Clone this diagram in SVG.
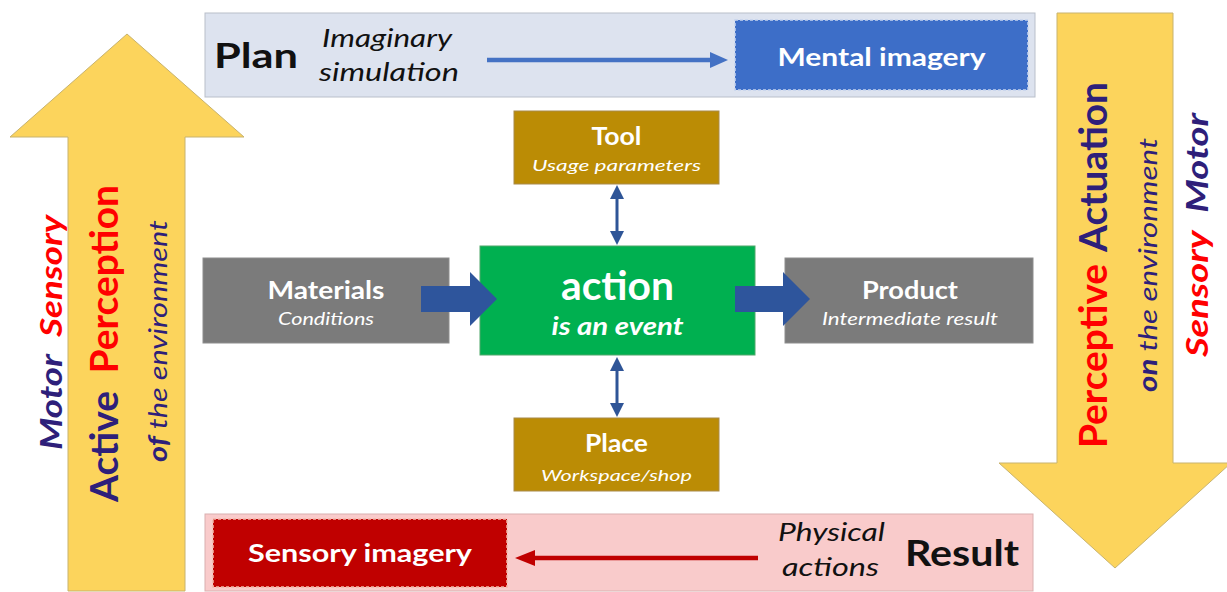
<svg xmlns="http://www.w3.org/2000/svg" width="1227" height="592" viewBox="0 0 1227 592">
<defs>
<style>
.t{font-family:Lato,"Open Sans","Liberation Sans",sans-serif}
.b{font-weight:bold}
.i{font-style:italic}
.w{fill:#ffffff}
.k{fill:#111111}
.nv{fill:#2e1f7a}
.rd{fill:#ff0000}
.yel{fill:#fcd45c;stroke:#c8b36e;stroke-width:1}
.blk{fill:#2e559c}
.dbl{stroke:#2f5597;stroke-width:3;fill:none}
.gray{fill:#7b7b7b;stroke:#8e8e8e;stroke-width:1}
.gold{fill:#bb8c05;stroke:#a88a4a;stroke-width:1}
</style>
<marker id="mb" viewBox="0 0 14 14" refX="2" refY="7" markerWidth="14" markerHeight="14" markerUnits="userSpaceOnUse" orient="auto-start-reverse"><path d="M0,0 L14,7 L0,14 z" fill="#2f5597"/></marker>
<marker id="mblue" viewBox="0 0 18 16" refX="4" refY="8" markerWidth="18" markerHeight="16" markerUnits="userSpaceOnUse" orient="auto"><path d="M0,0 L18,8 L0,16 z" fill="#4472c4"/></marker>
<marker id="mred" viewBox="0 0 20 16" refX="4" refY="8" markerWidth="20" markerHeight="16" markerUnits="userSpaceOnUse" orient="auto"><path d="M0,0 L20,8 L0,16 z" fill="#c00000"/></marker>
</defs>
<rect width="1227" height="592" fill="#ffffff"/>

<g id="left-arrow">
<polygon class="yel" points="127,34 244,137 185,137 185,591 68,591 68,137 10,137"/>
<text class="t b i" font-size="30" transform="translate(62,450) rotate(-90)" textLength="235" lengthAdjust="spacingAndGlyphs"><tspan class="nv">Motor</tspan> <tspan class="rd" dx="8">Sensory</tspan></text>
<text class="t b" font-size="39" transform="translate(118,502) rotate(-90)" textLength="317" lengthAdjust="spacingAndGlyphs"><tspan class="nv">Active</tspan> <tspan class="rd" dx="8">Perception</tspan></text>
<text class="t i nv" font-size="26" transform="translate(167,462) rotate(-90)" textLength="242" lengthAdjust="spacingAndGlyphs"><tspan class="b">of</tspan> the environment</text>
</g>

<g id="right-arrow">
<polygon class="yel" points="1057,13 1173,13 1173,463 1231,463 1115,568 999,463 1057,463"/>
<text class="t b" font-size="39" transform="translate(1107,448) rotate(-90)" textLength="366" lengthAdjust="spacingAndGlyphs"><tspan class="rd">Perceptive</tspan> <tspan class="nv" dx="4">Actuation</tspan></text>
<text class="t i nv" font-size="26" transform="translate(1157,392) rotate(-90)" textLength="254" lengthAdjust="spacingAndGlyphs"><tspan class="b">on</tspan> the environment</text>
<text class="t b i" font-size="30" transform="translate(1208,357) rotate(-90)" textLength="244" lengthAdjust="spacingAndGlyphs"><tspan class="rd">Sensory</tspan> <tspan class="nv" dx="8">Motor</tspan></text>
</g>

<g id="plan">
<rect x="205" y="13" width="830" height="84" fill="#dde3ef" stroke="#b9bfca" stroke-width="1"/>
<text class="t b k" font-size="34" x="214" y="68" textLength="84" lengthAdjust="spacingAndGlyphs">Plan</text>
<text class="t i k" font-size="25" x="322" y="47" textLength="130" lengthAdjust="spacingAndGlyphs">Imaginary</text>
<text class="t i k" font-size="25" x="319" y="81" textLength="140" lengthAdjust="spacingAndGlyphs">simulation</text>
</g>

<g id="mental-imagery">
<rect x="735" y="20" width="293" height="70" fill="#3d6ec8" stroke="#c5d3ee" stroke-width="1.5" stroke-dasharray="3,2"/>
<text class="t b w" font-size="25" x="881.5" y="66" text-anchor="middle" textLength="208" lengthAdjust="spacingAndGlyphs">Mental imagery</text>
</g>

<g id="result">
<rect x="205" y="514" width="828" height="77" fill="#f9cbcb" stroke="#d9b0b0" stroke-width="1"/>
<text class="t i k" font-size="25" x="778" y="541" textLength="107" lengthAdjust="spacingAndGlyphs">Physical</text>
<text class="t i k" font-size="25" x="782" y="576" textLength="97" lengthAdjust="spacingAndGlyphs">actions</text>
<text class="t b k" font-size="36" x="905" y="566" textLength="114" lengthAdjust="spacingAndGlyphs">Result</text>
</g>

<g id="sensory-imagery">
<rect x="213" y="519" width="294" height="68" fill="#c00000" stroke="#f1b7a8" stroke-width="1.5" stroke-dasharray="3,2"/>
<text class="t b w" font-size="25" x="360" y="562" text-anchor="middle" textLength="224" lengthAdjust="spacingAndGlyphs">Sensory imagery</text>
</g>

<g id="tool">
<rect class="gold" x="514" y="111" width="205" height="73"/>
<text class="t b w" font-size="25" x="616.5" y="145" text-anchor="middle" textLength="50" lengthAdjust="spacingAndGlyphs">Tool</text>
<text class="t i w" font-size="16" x="616.5" y="171" text-anchor="middle" textLength="169" lengthAdjust="spacingAndGlyphs">Usage parameters</text>
</g>

<g id="place">
<rect class="gold" x="514" y="418" width="205" height="73"/>
<text class="t b w" font-size="25" x="616.5" y="452" text-anchor="middle" textLength="63" lengthAdjust="spacingAndGlyphs">Place</text>
<text class="t i w" font-size="16" x="616.5" y="481" text-anchor="middle" textLength="151" lengthAdjust="spacingAndGlyphs">Workspace/shop</text>
</g>

<g id="materials">
<rect class="gray" x="203" y="258" width="246" height="85"/>
<text class="t b w" font-size="25" x="326" y="299" text-anchor="middle" textLength="117" lengthAdjust="spacingAndGlyphs">Materials</text>
<text class="t i w" font-size="17" x="326" y="325" text-anchor="middle" textLength="96" lengthAdjust="spacingAndGlyphs">Conditions</text>
</g>

<g id="product">
<rect class="gray" x="785" y="258" width="248" height="85"/>
<text class="t b w" font-size="25" x="910" y="299" text-anchor="middle" textLength="96" lengthAdjust="spacingAndGlyphs">Product</text>
<text class="t i w" font-size="17" x="910" y="325" text-anchor="middle" textLength="176" lengthAdjust="spacingAndGlyphs">Intermediate result</text>
</g>

<g id="action">
<rect x="480" y="246" width="275" height="109" fill="#00b050" stroke="#4fa86a" stroke-width="1"/>
<text class="t b w" font-size="40" x="617.5" y="300" text-anchor="middle" textLength="113" lengthAdjust="spacingAndGlyphs">action</text>
<text class="t b i w" font-size="25" x="617.5" y="335" text-anchor="middle" textLength="132" lengthAdjust="spacingAndGlyphs">is an event</text>
</g>

<g id="connectors">
<line x1="487" y1="60" x2="714" y2="60" stroke="#4472c4" stroke-width="4.5" marker-end="url(#mblue)"/>
<line x1="758" y1="558" x2="531" y2="558" stroke="#c00000" stroke-width="4.5" marker-end="url(#mred)"/>
<polygon class="blk" points="421,286 470,286 470,272 497,299 470,326 470,312 421,312"/>
<polygon class="blk" points="735,286 783,286 783,272 810,299 783,326 783,312 735,312"/>
<line class="dbl" x1="617" y1="197" x2="617" y2="233" marker-start="url(#mb)" marker-end="url(#mb)"/>
<line class="dbl" x1="617" y1="369" x2="617" y2="405" marker-start="url(#mb)" marker-end="url(#mb)"/>
</g>
</svg>
